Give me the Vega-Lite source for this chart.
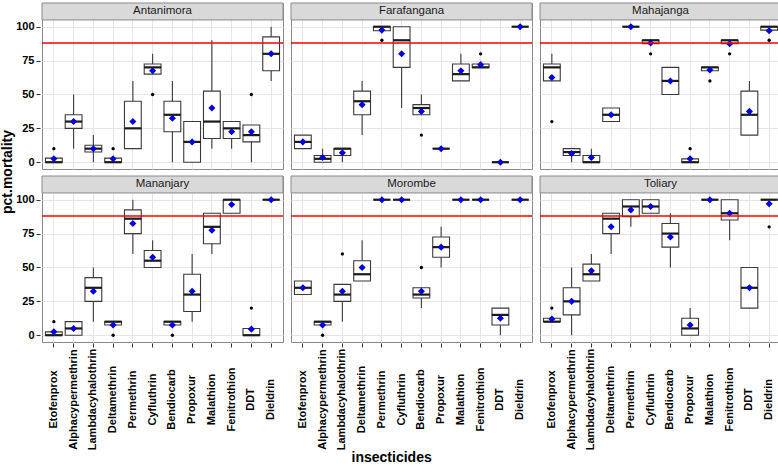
{
  "$schema": "https://vega.github.io/schema/vega-lite/v6.json",
  "padding": {"left": 0, "top": 2, "right": 0, "bottom": 0},
  "title": {"text": "insecticides", "orient": "bottom", "anchor": "middle", "fontSize": 14, "fontWeight": "bold", "color": "#000000", "offset": 1, "font": "Liberation Sans"},
  "config": {
    "font": "Liberation Sans",
    "view": {"stroke": "#8a8a8a", "strokeWidth": 1},
    "axis": {"gridColor": "#e6e6e6", "gridWidth": 1},
    "header": {"labels": false},
    "headerFacet": {"labels": false}
  },
  "data": {"values": [
    {"site":"Antanimora","ins":"Etofenprox","lo":0,"q1":0,"med":0,"q3":3,"hi":3,"mean":2.5},
    {"site":"Antanimora","ins":"Etofenprox","out":10},
    {"site":"Antanimora","ins":"Alphacypermethrin","lo":10,"q1":25,"med":30,"q3":35,"hi":50,"mean":30},
    {"site":"Antanimora","ins":"Lambdacyhalothrin","lo":0,"q1":7.5,"med":10,"q3":12.5,"hi":20,"mean":10},
    {"site":"Antanimora","ins":"Deltamethrin","lo":0,"q1":0,"med":0,"q3":3,"hi":3,"mean":2.5},
    {"site":"Antanimora","ins":"Deltamethrin","out":10},
    {"site":"Antanimora","ins":"Permethrin","lo":10,"q1":10,"med":25,"q3":45,"hi":60,"mean":30},
    {"site":"Antanimora","ins":"Cyfluthrin","lo":65,"q1":65,"med":70,"q3":72.5,"hi":80,"mean":67.5},
    {"site":"Antanimora","ins":"Cyfluthrin","out":50},
    {"site":"Antanimora","ins":"Bendiocarb","lo":0,"q1":22.5,"med":35,"q3":45,"hi":60,"mean":32.5},
    {"site":"Antanimora","ins":"Propoxur","lo":0,"q1":0,"med":15,"q3":30,"hi":30,"mean":15},
    {"site":"Antanimora","ins":"Malathion","lo":10,"q1":17.5,"med":30,"q3":52.5,"hi":90,"mean":40},
    {"site":"Antanimora","ins":"Fenitrothion","lo":10,"q1":17.5,"med":25,"q3":30,"hi":30,"mean":22.5},
    {"site":"Antanimora","ins":"DDT","lo":0,"q1":15,"med":20,"q3":27.5,"hi":27.5,"mean":22.5},
    {"site":"Antanimora","ins":"DDT","out":50},
    {"site":"Antanimora","ins":"Dieldrin","lo":60,"q1":67.5,"med":80,"q3":92.5,"hi":100,"mean":80},

    {"site":"Farafangana","ins":"Etofenprox","lo":10,"q1":10,"med":15,"q3":20,"hi":20,"mean":15},
    {"site":"Farafangana","ins":"Alphacypermethrin","lo":0,"q1":0,"med":2.5,"q3":5,"hi":10,"mean":3.5},
    {"site":"Farafangana","ins":"Lambdacyhalothrin","lo":0,"q1":5,"med":10,"q3":10,"hi":10,"mean":7},
    {"site":"Farafangana","ins":"Deltamethrin","lo":20,"q1":35,"med":45,"q3":52.5,"hi":60,"mean":42.5},
    {"site":"Farafangana","ins":"Permethrin","lo":97,"q1":97,"med":100,"q3":100,"hi":100,"mean":97.5},
    {"site":"Farafangana","ins":"Permethrin","out":90},
    {"site":"Farafangana","ins":"Cyfluthrin","lo":40,"q1":70,"med":90,"q3":100,"hi":100,"mean":80},
    {"site":"Farafangana","ins":"Bendiocarb","lo":35,"q1":35,"med":40,"q3":42.5,"hi":50,"mean":37.5},
    {"site":"Farafangana","ins":"Bendiocarb","out":20},
    {"site":"Farafangana","ins":"Propoxur","lo":10,"q1":10,"med":10,"q3":10,"hi":10,"mean":10},
    {"site":"Farafangana","ins":"Malathion","lo":60,"q1":60,"med":65,"q3":72.5,"hi":80,"mean":67.5},
    {"site":"Farafangana","ins":"Fenitrothion","lo":70,"q1":70,"med":70,"q3":72.5,"hi":72.5,"mean":72},
    {"site":"Farafangana","ins":"Fenitrothion","out":80},
    {"site":"Farafangana","ins":"DDT","lo":0,"q1":0,"med":0,"q3":0,"hi":0,"mean":0},
    {"site":"Farafangana","ins":"Dieldrin","lo":100,"q1":100,"med":100,"q3":100,"hi":100,"mean":100},

    {"site":"Mahajanga","ins":"Etofenprox","lo":60,"q1":60,"med":70,"q3":72.5,"hi":80,"mean":62.5},
    {"site":"Mahajanga","ins":"Etofenprox","out":30},
    {"site":"Mahajanga","ins":"Alphacypermethrin","lo":0,"q1":5,"med":7.5,"q3":10,"hi":10,"mean":6.5},
    {"site":"Mahajanga","ins":"Lambdacyhalothrin","lo":0,"q1":0,"med":0,"q3":5,"hi":10,"mean":3.5},
    {"site":"Mahajanga","ins":"Deltamethrin","lo":30,"q1":30,"med":35,"q3":40,"hi":40,"mean":35},
    {"site":"Mahajanga","ins":"Permethrin","lo":100,"q1":100,"med":100,"q3":100,"hi":100,"mean":100},
    {"site":"Mahajanga","ins":"Cyfluthrin","lo":87.5,"q1":87.5,"med":90,"q3":90,"hi":90,"mean":88},
    {"site":"Mahajanga","ins":"Cyfluthrin","out":80},
    {"site":"Mahajanga","ins":"Bendiocarb","lo":50,"q1":50,"med":60,"q3":70,"hi":70,"mean":60},
    {"site":"Mahajanga","ins":"Propoxur","lo":0,"q1":0,"med":0,"q3":2.5,"hi":2.5,"mean":2.5},
    {"site":"Mahajanga","ins":"Propoxur","out":10},
    {"site":"Mahajanga","ins":"Malathion","lo":67.5,"q1":67.5,"med":70,"q3":70,"hi":70,"mean":68},
    {"site":"Mahajanga","ins":"Malathion","out":60},
    {"site":"Mahajanga","ins":"Fenitrothion","lo":87.5,"q1":87.5,"med":90,"q3":90,"hi":90,"mean":87.5},
    {"site":"Mahajanga","ins":"Fenitrothion","out":80},
    {"site":"Mahajanga","ins":"DDT","lo":20,"q1":20,"med":35,"q3":52.5,"hi":60,"mean":37.5},
    {"site":"Mahajanga","ins":"Dieldrin","lo":97.5,"q1":97.5,"med":100,"q3":100,"hi":100,"mean":97},
    {"site":"Mahajanga","ins":"Dieldrin","out":90},

    {"site":"Mananjary","ins":"Etofenprox","lo":0,"q1":0,"med":0,"q3":2.5,"hi":2.5,"mean":2.5},
    {"site":"Mananjary","ins":"Etofenprox","out":10},
    {"site":"Mananjary","ins":"Alphacypermethrin","lo":0,"q1":0,"med":5,"q3":10,"hi":10,"mean":5},
    {"site":"Mananjary","ins":"Lambdacyhalothrin","lo":10,"q1":25,"med":35,"q3":42.5,"hi":50,"mean":32.5},
    {"site":"Mananjary","ins":"Deltamethrin","lo":7.5,"q1":7.5,"med":10,"q3":10,"hi":10,"mean":7.5},
    {"site":"Mananjary","ins":"Deltamethrin","out":0},
    {"site":"Mananjary","ins":"Permethrin","lo":60,"q1":75,"med":86,"q3":92.5,"hi":100,"mean":82.5},
    {"site":"Mananjary","ins":"Cyfluthrin","lo":50,"q1":50,"med":55,"q3":62.5,"hi":70,"mean":57.5},
    {"site":"Mananjary","ins":"Bendiocarb","lo":7.5,"q1":7.5,"med":10,"q3":10,"hi":10,"mean":7.5},
    {"site":"Mananjary","ins":"Bendiocarb","out":0},
    {"site":"Mananjary","ins":"Propoxur","lo":10,"q1":17.5,"med":30,"q3":45,"hi":60,"mean":32.5},
    {"site":"Mananjary","ins":"Malathion","lo":60,"q1":67.5,"med":80,"q3":90,"hi":90,"mean":77.5},
    {"site":"Mananjary","ins":"Fenitrothion","lo":90,"q1":90,"med":100,"q3":100,"hi":100,"mean":96.5},
    {"site":"Mananjary","ins":"DDT","lo":0,"q1":0,"med":0,"q3":5,"hi":5,"mean":4.5},
    {"site":"Mananjary","ins":"DDT","out":20},
    {"site":"Mananjary","ins":"Dieldrin","lo":100,"q1":100,"med":100,"q3":100,"hi":100,"mean":100},

    {"site":"Morombe","ins":"Etofenprox","lo":30,"q1":30,"med":35,"q3":40,"hi":40,"mean":35},
    {"site":"Morombe","ins":"Alphacypermethrin","lo":7.5,"q1":7.5,"med":10,"q3":10,"hi":10,"mean":7.5},
    {"site":"Morombe","ins":"Alphacypermethrin","out":0},
    {"site":"Morombe","ins":"Lambdacyhalothrin","lo":10,"q1":25,"med":30,"q3":37.5,"hi":37.5,"mean":32.5},
    {"site":"Morombe","ins":"Lambdacyhalothrin","out":60},
    {"site":"Morombe","ins":"Deltamethrin","lo":40,"q1":40,"med":45,"q3":55,"hi":70,"mean":50},
    {"site":"Morombe","ins":"Permethrin","lo":100,"q1":100,"med":100,"q3":100,"hi":100,"mean":100},
    {"site":"Morombe","ins":"Cyfluthrin","lo":100,"q1":100,"med":100,"q3":100,"hi":100,"mean":100},
    {"site":"Morombe","ins":"Bendiocarb","lo":20,"q1":27.5,"med":30,"q3":35,"hi":35,"mean":32.5},
    {"site":"Morombe","ins":"Bendiocarb","out":50},
    {"site":"Morombe","ins":"Propoxur","lo":50,"q1":57.5,"med":65,"q3":72.5,"hi":80,"mean":65},
    {"site":"Morombe","ins":"Malathion","lo":100,"q1":100,"med":100,"q3":100,"hi":100,"mean":100},
    {"site":"Morombe","ins":"Fenitrothion","lo":100,"q1":100,"med":100,"q3":100,"hi":100,"mean":100},
    {"site":"Morombe","ins":"DDT","lo":0,"q1":7.5,"med":15,"q3":20,"hi":20,"mean":12.5},
    {"site":"Morombe","ins":"Dieldrin","lo":100,"q1":100,"med":100,"q3":100,"hi":100,"mean":100},

    {"site":"Toliary","ins":"Etofenprox","lo":10,"q1":10,"med":10,"q3":12.5,"hi":12.5,"mean":12},
    {"site":"Toliary","ins":"Etofenprox","out":20},
    {"site":"Toliary","ins":"Alphacypermethrin","lo":0,"q1":15,"med":25,"q3":35,"hi":50,"mean":25},
    {"site":"Toliary","ins":"Lambdacyhalothrin","lo":40,"q1":40,"med":45,"q3":52.5,"hi":60,"mean":47.5},
    {"site":"Toliary","ins":"Deltamethrin","lo":60,"q1":75,"med":86,"q3":90,"hi":90,"mean":80},
    {"site":"Toliary","ins":"Permethrin","lo":80,"q1":87.5,"med":95,"q3":100,"hi":100,"mean":92.5},
    {"site":"Toliary","ins":"Cyfluthrin","lo":90,"q1":90,"med":95,"q3":100,"hi":100,"mean":95},
    {"site":"Toliary","ins":"Bendiocarb","lo":50,"q1":65,"med":75,"q3":82.5,"hi":90,"mean":72.5},
    {"site":"Toliary","ins":"Propoxur","lo":0,"q1":0,"med":5,"q3":12.5,"hi":20,"mean":7.5},
    {"site":"Toliary","ins":"Malathion","lo":100,"q1":100,"med":100,"q3":100,"hi":100,"mean":100},
    {"site":"Toliary","ins":"Fenitrothion","lo":70,"q1":85,"med":90,"q3":100,"hi":100,"mean":90},
    {"site":"Toliary","ins":"DDT","lo":20,"q1":20,"med":35,"q3":50,"hi":50,"mean":35},
    {"site":"Toliary","ins":"Dieldrin","lo":100,"q1":100,"med":100,"q3":100,"hi":100,"mean":97},
    {"site":"Toliary","ins":"Dieldrin","out":80}
  ]},
  "facet": {"field": "site", "type": "nominal", "header": {"title": "pct.mortality", "titleOrient": "left", "labels": false, "labelExpr": "''", "labelFontSize": 0, "labelPadding": 0, "titleFontSize": 14, "titleFontWeight": "bold", "titleColor": "#000000", "titlePadding": 0, "titleFont": "Liberation Sans"}},
  "columns": 3,
  "spacing": {"row": 5, "column": 4},
  "spec": {
    "width": 241,
    "height": 166,
    "layer": [
      {
        "transform": [{"filter": "isValid(datum.med)"}],
        "mark": {"type": "rule", "color": "#3a3a3a", "strokeWidth": 1.1},
        "encoding": {
          "x": {"field": "ins", "type": "nominal", "scale": {"domain": ["Etofenprox","Alphacypermethrin","Lambdacyhalothrin","Deltamethrin","Permethrin","Cyfluthrin","Bendiocarb","Propoxur","Malathion","Fenitrothion","DDT","Dieldrin"], "paddingInner": 0, "paddingOuter": 0.1},
            "axis": {"title": null, "grid": true, "bandPosition": 0.5, "labelAngle": 270, "labelAlign": "center", "labelBaseline": "middle", "labelPadding": 52, "tickSize": 4, "tickColor": "#333333", "labelFontSize": 11, "labelFontWeight": "bold", "labelColor": "#000000", "domain": false, "labelOverlap": false, "labelBound": false, "labelLimit": 300}},
          "y": {"field": "lo", "type": "quantitative", "scale": {"domain": [-5, 117.5], "nice": false, "zero": false},
            "axis": {"title": null, "values": [0,12.5,25,37.5,50,62.5,75,87.5,100], "labelExpr": "datum.value % 25 === 0 ? datum.label : ''", "tickColor": {"condition": {"test": "datum.value % 25 !== 0", "value": "transparent"}, "value": "#333333"}, "gridColor": {"condition": {"test": "datum.value % 25 !== 0", "value": "#f1f1f1"}, "value": "#e6e6e6"}, "domain": false, "tickSize": 4, "labelPadding": 2, "labelFontSize": 11, "labelFontWeight": "bold", "labelColor": "#000000"}},
          "y2": {"field": "hi"}
        }
      },
      {
        "transform": [{"filter": "isValid(datum.med)"}],
        "mark": {"type": "bar", "fill": "#ffffff", "stroke": "#3a3a3a", "strokeWidth": 1.1, "width": {"band": 0.85}},
        "encoding": {
          "x": {"field": "ins", "type": "nominal", "title": null},
          "y": {"field": "q1", "type": "quantitative", "title": null},
          "y2": {"field": "q3"}
        }
      },
      {
        "transform": [{"filter": "isValid(datum.med)"}],
        "mark": {"type": "tick", "orient": "horizontal", "color": "#1a1a1a", "size": 17, "thickness": 2.2, "opacity": 1},
        "encoding": {
          "x": {"field": "ins", "type": "nominal", "title": null},
          "y": {"field": "med", "type": "quantitative", "title": null}
        }
      },
      {
        "transform": [{"filter": "isValid(datum.out)"}],
        "mark": {"type": "circle", "color": "#000000", "size": 11, "opacity": 1},
        "encoding": {
          "x": {"field": "ins", "type": "nominal", "title": null},
          "y": {"field": "out", "type": "quantitative", "title": null}
        }
      },
      {
        "transform": [{"filter": "isValid(datum.med)"}],
        "mark": {"type": "point", "shape": "diamond", "filled": true, "color": "#0000dd", "size": 50, "opacity": 1},
        "encoding": {
          "x": {"field": "ins", "type": "nominal", "title": null},
          "y": {"field": "mean", "type": "quantitative", "title": null}
        }
      },
      {
        "transform": [{"filter": "datum.ins === 'Etofenprox' && isValid(datum.med)"}],
        "mark": {"type": "rule", "color": "#ff0000", "strokeWidth": 1.5},
        "encoding": {"y": {"datum": 88, "type": "quantitative"}}
      },
      {
        "transform": [{"filter": "datum.ins === 'Etofenprox' && isValid(datum.med)"}],
        "mark": {"type": "rect", "fill": "#d9d9d9", "stroke": "#8a8a8a", "strokeWidth": 1},
        "encoding": {"y": {"datum": 105, "type": "quantitative"}, "y2": {"datum": 117.5}}
      },
      {
        "transform": [{"filter": "datum.ins === 'Etofenprox' && isValid(datum.med)"}],
        "mark": {"type": "text", "fontSize": 11.5, "color": "#1a1a1a", "baseline": "middle", "align": "center"},
        "encoding": {"y": {"datum": 111.25, "type": "quantitative"}, "text": {"field": "site"}}
      }
    ]
  }
}
